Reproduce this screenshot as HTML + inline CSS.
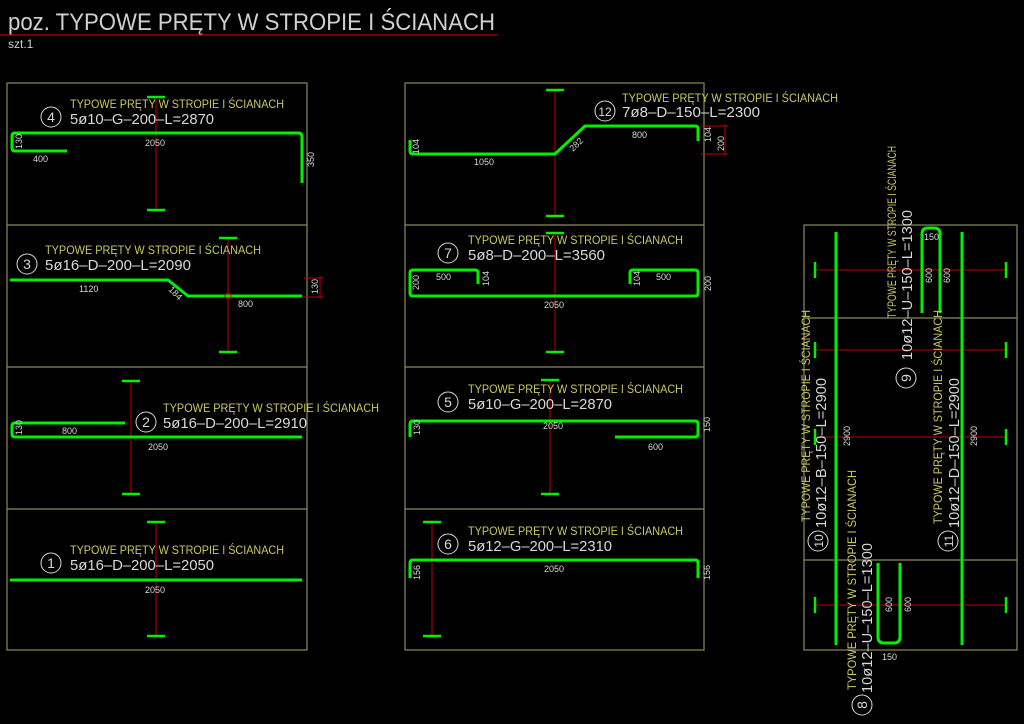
<!DOCTYPE html>
<html><head><meta charset="utf-8"><style>
html,body{margin:0;padding:0;background:#000;width:1024px;height:724px;overflow:hidden}
svg{display:block}
text{font-family:"Liberation Sans",sans-serif}
.y{fill:#c8c864;font-size:12px}
.w{fill:#d8d8d8;font-size:15px}
.s{fill:#d8d8d8;font-size:9px}
.f{stroke:#8a8a5c;stroke-width:1.2;fill:none}
.g{stroke:#00f000;stroke-width:3;fill:none;stroke-linejoin:round}
.gt{stroke:#00f000;stroke-width:2.5}
.r{stroke:#c00000;stroke-width:1}
.c{stroke:#d8d8d8;stroke-width:1;fill:none}
</style></head><body>
<svg width="1024" height="724" viewBox="0 0 1024 724">
<text x="8" y="30" fill="#d0d0d0" font-size="24" textLength="487" lengthAdjust="spacingAndGlyphs">poz. TYPOWE PRĘTY W STROPIE I ŚCIANACH</text>
<line x1="0" y1="35" x2="497" y2="35" stroke="#c00000" stroke-width="1.2"/>
<text x="8" y="48" fill="#d0d0d0" font-size="12">szt.1</text>

<!-- frames -->
<rect class="f" x="7" y="83" width="300" height="567"/>
<line class="f" x1="7" y1="225" x2="307" y2="225"/><line class="f" x1="7" y1="367" x2="307" y2="367"/><line class="f" x1="7" y1="509" x2="307" y2="509"/>
<rect class="f" x="405" y="83" width="299" height="567"/>
<line class="f" x1="405" y1="225" x2="704" y2="225"/><line class="f" x1="405" y1="367" x2="704" y2="367"/><line class="f" x1="405" y1="509" x2="704" y2="509"/>
<rect class="f" x="804" y="225" width="213" height="425"/>
<line class="f" x1="804" y1="318" x2="1017" y2="318"/><line class="f" x1="804" y1="560" x2="1017" y2="560"/>

<!-- red dimension lines helper: vertical -->
<g class="r">
<line x1="156" y1="97" x2="156" y2="210"/><line x1="228" y1="238" x2="228" y2="352"/>
<line x1="131" y1="381" x2="131" y2="494"/><line x1="156" y1="522" x2="156" y2="636"/>
<line x1="555" y1="90" x2="555" y2="216"/><line x1="555" y1="233" x2="555" y2="352"/>
<line x1="550" y1="380" x2="550" y2="494"/><line x1="432" y1="522" x2="432" y2="636"/>
<line x1="815" y1="270" x2="1006" y2="270"/><line x1="815" y1="350" x2="1006" y2="350"/>
<line x1="815" y1="437" x2="1006" y2="437"/><line x1="815" y1="605" x2="1006" y2="605"/>
</g>
<g class="gt">
<line x1="147" y1="97" x2="165" y2="97"/><line x1="147" y1="210" x2="165" y2="210"/>
<line x1="219" y1="238" x2="237" y2="238"/><line x1="219" y1="352" x2="237" y2="352"/>
<line x1="122" y1="381" x2="140" y2="381"/><line x1="122" y1="494" x2="140" y2="494"/>
<line x1="147" y1="522" x2="165" y2="522"/><line x1="147" y1="636" x2="165" y2="636"/>
<line x1="546" y1="90" x2="564" y2="90"/><line x1="546" y1="216" x2="564" y2="216"/>
<line x1="546" y1="233" x2="564" y2="233"/><line x1="546" y1="352" x2="564" y2="352"/>
<line x1="541" y1="380" x2="559" y2="380"/><line x1="541" y1="494" x2="559" y2="494"/>
<line x1="423" y1="522" x2="441" y2="522"/><line x1="423" y1="636" x2="441" y2="636"/>
<line x1="815" y1="262" x2="815" y2="278"/><line x1="1006" y1="262" x2="1006" y2="278"/>
<line x1="815" y1="342" x2="815" y2="358"/><line x1="1006" y1="342" x2="1006" y2="358"/>
<line x1="815" y1="429" x2="815" y2="445"/><line x1="1006" y1="429" x2="1006" y2="445"/>
<line x1="815" y1="597" x2="815" y2="613"/><line x1="1006" y1="597" x2="1006" y2="613"/>
</g>

<!-- green bars -->
<path class="g" d="M67 151 H15 Q12 151 12 148 V136 Q12 133 15 133 H298 Q302 133 302 137 V183"/>
<path class="g" d="M10 280 H168 L188 296 H302"/>
<path class="g" d="M125 423 H15 Q12 423 12 426 V434 Q12 437 15 437 H302"/>
<path class="g" d="M10 580 H302"/>
<path class="g" d="M410 140 V151 Q410 154 413 154 H555 L585 126 H695 Q698 126 698 129 V141"/>
<path class="g" d="M478 284 V273 Q478 270 475 270 H413 Q410 270 410 273 V293 Q410 296 413 296 H695 Q698 296 698 293 V273 Q698 270 695 270 H633 Q630 270 630 273 V284"/>
<path class="g" d="M615 437 H695 Q698 437 698 434 V424 Q698 421 695 421 H413 Q410 421 410 424 V437"/>
<path class="g" d="M410 578 V563 Q410 560 413 560 H695 Q698 560 698 563 V578"/>
<line class="g" x1="836" y1="232" x2="836" y2="645"/>
<line class="g" x1="962" y1="232" x2="962" y2="645"/>
<path class="g" d="M922 313 V234 Q922 228 928 228 H934 Q940 228 940 234 V313"/>
<path class="g" d="M878 563 V637 Q878 643 884 643 H894 Q900 643 900 637 V563"/>

<!-- small dims -->
<g class="r"><path d="M304 278 H323 M304 297 H323 M320 276 V299" fill="none"/><path d="M701 126 H728 M701 154 H728 M725 124 V156" fill="none"/></g>
<circle cx="228" cy="296" r="3" class="r" fill="none"/>

<!-- labels -->
<g class="c">
<circle cx="51" cy="117" r="10"/><circle cx="27" cy="264" r="10"/><circle cx="146" cy="422" r="10"/><circle cx="51" cy="563" r="10"/>
<circle cx="605" cy="111" r="10"/><circle cx="448" cy="253" r="10"/><circle cx="448" cy="402" r="10"/><circle cx="448" cy="544" r="10"/>
<circle cx="906" cy="378" r="10"/><circle cx="818" cy="541" r="10"/><circle cx="948" cy="541" r="10"/><circle cx="862" cy="705" r="10"/>
</g>
<g fill="#d8d8d8" font-size="14" text-anchor="middle">
<text x="51" y="122">4</text><text x="27" y="269">3</text><text x="146" y="427">2</text><text x="51" y="568">1</text>
<text x="605" y="116" font-size="12">12</text><text x="448" y="258">7</text><text x="448" y="407">5</text><text x="448" y="549">6</text>
<text transform="translate(911,378) rotate(-90)">9</text>
<text transform="translate(823,541) rotate(-90)" font-size="12">10</text>
<text transform="translate(953,541) rotate(-90)" font-size="12">11</text>
<text transform="translate(867,705) rotate(-90)">8</text>
</g>

<text class="y" x="70" y="108" textLength="214" lengthAdjust="spacingAndGlyphs">TYPOWE PRĘTY W STROPIE I ŚCIANACH</text>
<text class="w" x="70" y="124" textLength="144" lengthAdjust="spacingAndGlyphs">5ø10–G–200–L=2870</text>
<text class="y" x="45" y="254" textLength="216" lengthAdjust="spacingAndGlyphs">TYPOWE PRĘTY W STROPIE I ŚCIANACH</text>
<text class="w" x="45" y="270" textLength="146" lengthAdjust="spacingAndGlyphs">5ø16–D–200–L=2090</text>
<text class="y" x="163" y="412" textLength="216" lengthAdjust="spacingAndGlyphs">TYPOWE PRĘTY W STROPIE I ŚCIANACH</text>
<text class="w" x="163" y="428" textLength="144" lengthAdjust="spacingAndGlyphs">5ø16–D–200–L=2910</text>
<text class="y" x="70" y="554" textLength="214" lengthAdjust="spacingAndGlyphs">TYPOWE PRĘTY W STROPIE I ŚCIANACH</text>
<text class="w" x="70" y="570" textLength="144" lengthAdjust="spacingAndGlyphs">5ø16–D–200–L=2050</text>
<text class="y" x="622" y="102" textLength="216" lengthAdjust="spacingAndGlyphs">TYPOWE PRĘTY W STROPIE I ŚCIANACH</text>
<text class="w" x="622" y="117" textLength="138" lengthAdjust="spacingAndGlyphs">7ø8–D–150–L=2300</text>
<text class="y" x="468" y="244" textLength="215" lengthAdjust="spacingAndGlyphs">TYPOWE PRĘTY W STROPIE I ŚCIANACH</text>
<text class="w" x="468" y="260" textLength="137" lengthAdjust="spacingAndGlyphs">5ø8–D–200–L=3560</text>
<text class="y" x="468" y="393" textLength="215" lengthAdjust="spacingAndGlyphs">TYPOWE PRĘTY W STROPIE I ŚCIANACH</text>
<text class="w" x="468" y="409" textLength="144" lengthAdjust="spacingAndGlyphs">5ø10–G–200–L=2870</text>
<text class="y" x="468" y="535" textLength="215" lengthAdjust="spacingAndGlyphs">TYPOWE PRĘTY W STROPIE I ŚCIANACH</text>
<text class="w" x="468" y="551" textLength="144" lengthAdjust="spacingAndGlyphs">5ø12–G–200–L=2310</text>

<text class="y" transform="translate(896,318) rotate(-90)" textLength="172" lengthAdjust="spacingAndGlyphs">TYPOWE PRĘTY W STROPIE I ŚCIANACH</text>
<text class="w" transform="translate(912,360) rotate(-90)" textLength="150" lengthAdjust="spacingAndGlyphs">10ø12–U–150–L=1300</text>
<text class="y" transform="translate(810,522) rotate(-90)" textLength="212" lengthAdjust="spacingAndGlyphs">TYPOWE PRĘTY W STROPIE I ŚCIANACH</text>
<text class="w" transform="translate(826,528) rotate(-90)" textLength="150" lengthAdjust="spacingAndGlyphs">10ø12–B–150–L=2900</text>
<text class="y" transform="translate(942,524) rotate(-90)" textLength="214" lengthAdjust="spacingAndGlyphs">TYPOWE PRĘTY W STROPIE I ŚCIANACH</text>
<text class="w" transform="translate(959,528) rotate(-90)" textLength="150" lengthAdjust="spacingAndGlyphs">10ø12–D–150–L=2900</text>
<text class="y" transform="translate(856,690) rotate(-90)" textLength="220" lengthAdjust="spacingAndGlyphs">TYPOWE PRĘTY W STROPIE I ŚCIANACH</text>
<text class="w" transform="translate(872,693) rotate(-90)" textLength="150" lengthAdjust="spacingAndGlyphs">10ø12–U–150–L=1300</text>

<!-- small dimension texts -->
<g class="s">
<text x="145" y="146">2050</text><text x="33" y="162">400</text>
<text transform="translate(22,149) rotate(-90)">130</text><text transform="translate(314,167) rotate(-90)">350</text>
<text x="79" y="292">1120</text><text transform="translate(168,290) rotate(45)">184</text><text x="238" y="307">800</text>
<text transform="translate(318,294) rotate(-90)">130</text>
<text x="62" y="434">800</text><text x="148" y="450">2050</text><text transform="translate(22,435) rotate(-90)">130</text>
<text x="145" y="593">2050</text>
<text transform="translate(419,154) rotate(-90)">104</text><text x="474" y="165">1050</text><text x="632" y="138">800</text>
<text transform="translate(573,152) rotate(-45)">282</text>
<text transform="translate(711,142) rotate(-90)">104</text><text transform="translate(724,151) rotate(-90)">200</text>
<text transform="translate(419,290) rotate(-90)">200</text><text x="436" y="280">500</text><text transform="translate(489,286) rotate(-90)">104</text>
<text transform="translate(640,286) rotate(-90)">104</text><text x="656" y="280">500</text><text transform="translate(711,291) rotate(-90)">200</text>
<text x="544" y="308">2050</text>
<text transform="translate(420,435) rotate(-90)">130</text><text x="543" y="429">2050</text><text transform="translate(710,432) rotate(-90)">150</text><text x="648" y="450">600</text>
<text transform="translate(420,580) rotate(-90)">156</text><text x="544" y="572">2050</text><text transform="translate(710,580) rotate(-90)">156</text>
<text x="924" y="240">150</text><text transform="translate(932,283) rotate(-90)">600</text><text transform="translate(950,283) rotate(-90)">600</text>
<text transform="translate(850,446) rotate(-90)">2900</text><text transform="translate(977,446) rotate(-90)">2900</text>
<text transform="translate(892,612) rotate(-90)">600</text><text transform="translate(911,612) rotate(-90)">600</text>
<text x="882" y="660">150</text>
</g>
</svg>
</body></html>
